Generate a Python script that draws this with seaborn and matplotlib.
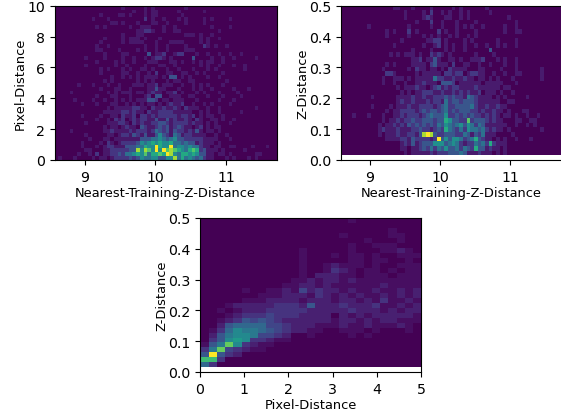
import numpy as np
import pandas as pd
import matplotlib
matplotlib.use('Agg')
import matplotlib.pyplot as plt
from matplotlib.colors import PowerNorm
import seaborn as sns

# counts per cell. top row first, spaces only for counting
pixel_vs_nearest = [
    "0000000000 0000000010 0000101000 0000010000 0000000000 0000000000",
    "0000000000 0000000000 0100101100 0001000000 1000000000 0000000000",
    "0000000000 0010000110 1000101100 0000100000 0000000000 0000000000",
    "0000000000 1000100000 0000201001 0001010000 1010000100 0000000000",
    "0000000000 0000011010 0010001100 1000010000 1000000000 0000000000",
    "0000000000 0101000000 1001110001 0010000000 0010000100 0000000000",
    "0000000000 0000000000 0011221001 0011000000 0000100000 0000000000",
    "0000000000 0000000010 0011000000 0000011101 0010000000 0000000000",
    "0000000000 0001000010 1110100010 0000000001 0100100000 0000000000",
    "0000000000 0010000010 1111000100 0111100001 0100000000 0000000000",
    "0000000000 0100100000 0000100100 1000010000 2101001000 0000000000",
    "0000000000 0110000100 0010100100 1000011100 0000000000 0000000000",
    "0000000000 0001000011 0000030112 0012200010 0100100100 1000000000",
    "0000000010 0001000010 0100101221 0100000300 0010010010 0000100000",
    "0000000000 0100001010 0100011100 0110100101 0110010000 0000000000",
    "0000000010 0000001001 0000100011 0010000001 0100100010 0100000000",
    "0000000000 0010100010 1001101000 1001000100 0101000000 0100000000",
    "0000000000 0010000011 0010010200 1100110010 1000010000 0000000000",
    "0000000000 0000010010 1010111101 0330101000 0100100000 0000000000",
    "0000000000 0001010000 0010101000 1011001100 0000001000 0000000000",
    "0000001000 1000100100 0111011201 1100100101 0100010000 0000000000",
    "0000000000 0010001100 1000011311 0001000101 0010000010 0010000000",
    "0000100000 0000101011 1011012110 1120100010 1000100001 0000000000",
    "0000000000 0100011000 1000120330 0111001100 0100010000 1000000000",
    "0000010000 1001001010 1011133201 1011100010 0000100010 0000000000",
    "0000000100 0100011001 0101011010 1211200100 1010000100 0000000000",
    "0000000000 0000101111 1221102112 1121021110 0100100000 0000100000",
    "0000000000 0001111122 1211021122 2211111001 0100100000 1000000000",
    "0000000100 0010011021 1202212122 2221221201 0110010000 0000000000",
    "0000000000 0100102120 1212211311 3121121021 0011010010 0000000000",
    "0000000010 0000111221 0212112233 2122221211 0101000100 0000000000",
    "0000000000 0001011012 1103211232 3123211012 0101100000 0000000000",
    "0000100000 0001121111 2122212432 3132212131 0110100000 0000000000",
    "0000000010 0000110122 1321311353 2143122111 1001001000 0000000000",
    "0000000001 0001101111 1113334454 3453322222 1111000100 0000000000",
    "0000000100 0010210122 2235456565 5644343312 1110100000 0000000000",
    "0000000100 0101221113 3344655965 5945545442 1101100110 0001000100",
    "0000000011 0001122222 3385875959 7876546762 3111010000 0100000000",
    "0000001001 0201122324 4565746676 9854665653 3110110100 0000110000",
    "0100010000 1011012222 3235445533 5584645434 2110001010 0010100000",
]

z_vs_nearest = [
    "0000000000 0000110001 0000100000 1010000001 0000000000 0000000000",
    "0000000000 0000000100 0010200101 0010100000 1000000000 0000000000",
    "0000000000 0000000100 0012100011 0010100000 0000010000 0000000000",
    "0000000000 0000000000 1000200100 0100001000 0000000100 0000000000",
    "0000000100 0000000010 0000100100 0101010010 0000100100 0000000000",
    "0000000000 0010100020 1000002010 0100001000 0000100110 0000000000",
    "0000000000 0010000010 0010101001 0100101000 0000000000 0000000000",
    "0000000000 0000001000 0001122010 0001010000 0010000100 0000000000",
    "0000000000 0000100000 0010012010 1001001001 0010100100 0000000000",
    "0000000000 0000000001 0000100010 1001000000 3000000000 0000000000",
    "0000000000 0001010111 0100212101 0000001000 0100000000 0000000000",
    "0000000000 0000000001 1201131001 1010011120 0010100100 0000000000",
    "0000000000 0010100001 1110231110 2001100100 1000100100 0000000000",
    "0000000000 0100000010 2110110102 1111000110 0001000100 0000100000",
    "0000000000 0022100000 1011111022 1220122110 0100100110 0000100000",
    "0000000000 0100111010 1111142211 2112110110 1010001000 0000100000",
    "0000000000 0100100100 1121110333 2011111101 1111000100 0000000000",
    "0000000000 0000010111 2110123121 2211112111 1110110000 0000000000",
    "0000000000 0000001010 1122211211 2121211201 1101001000 0000000000",
    "0000000010 0000011112 1121122232 3221432111 1010100000 1000000000",
    "0000000000 0000012112 1112122142 3323332111 1110011000 0000000000",
    "0000000010 0001011121 1222212342 2333342112 1121100000 0000000000",
    "0000000000 0010112222 1232332342 3233322121 1211010001 1000000000",
    "0001000100 0100112122 2123433352 2323232212 1210110100 1001000000",
    "0000000000 0101121223 2233323365 3322723332 1211000110 0110000000",
    "0000000000 1011212132 3232324354 3453542431 1111100100 1010000000",
    "0000000000 1211121112 2322123264 3242544342 1211010000 0000100000",
    "0000000000 1011121122 1389832233 3224313241 1100001000 0000000000",
    "0000000000 0011112213 2222129353 5542346321 1010100100 0100000000",
    "0000000000 0000001213 1233355534 5421224342 6211100000 0000000000",
    "0000000000 0000001101 1232424353 3424326331 2110100000 0000000000",
    "0000000000 0000000101 1111212223 3343111211 1010100000 0000000000",
]

# hex levels here, this panel has a much bigger range
z_vs_pixel = [
    "0000000000 0000000010 0000000",
    "0000000000 0000000000 0000000",
    "0000000000 0000000000 0001000",
    "0000000000 0000000100 0001100",
    "0000000000 0000000000 1000100",
    "0000000000 0000000010 0111000",
    "0000000000 0010000010 0011210",
    "0000000000 0010001011 0100111",
    "0000000000 0010000011 0110010",
    "0000000000 0010012111 0100111",
    "0000000000 0010013210 1101011",
    "0000000000 0010222110 1110111",
    "0000000000 0112122121 1111111",
    "0000000000 1122121111 1121111",
    "0000010011 2142322121 1211212",
    "0000000111 2221321212 1121212",
    "0000011122 2212221221 2131121",
    "0001222223 3325222322 2311212",
    "0010122233 3332222232 2212122",
    "0001233343 3322220212 1222221",
    "0012354543 2222221221 2122111",
    "0025666644 3222111211 2111210",
    "0136877654 3221100111 0100010",
    "0257887443 2001000010 1000000",
    "0358983321 1000000000 0000000",
    "157c832110 0000000000 0000000",
    "37c4321100 0000000000 0000000",
    "5f53200000 0000000000 0000000",
    "bb30000000 0000000000 0000000",
    "6300000000 0000000000 0000000",
]

nearest_ticks = [9, 10, 11]
pixel_ticks = [0, 2, 4, 6, 8, 10]
z_ticks = [0.0, 0.1, 0.2, 0.3, 0.4, 0.5]
pixel_ticks_short = [0, 1, 2, 3, 4, 5]


def cells(rows, xr, yr):
    grid = np.array([[int(c, 16) for c in r.replace(' ', '')] for r in rows])[::-1]
    ny, nx = grid.shape
    xe = np.linspace(xr[0], xr[1], nx + 1)
    ye = np.linspace(yr[0], yr[1], ny + 1)
    xc, yc = np.meshgrid((xe[:-1] + xe[1:]) / 2, (ye[:-1] + ye[1:]) / 2)
    return pd.DataFrame({'x': xc.ravel(), 'y': yc.ravel(), 'n': grid.ravel()}), (nx, ny)


def panel(pos, rows, xr, yr, vmax, gamma, xlim, ylim, xticks, yticks, xlabel, ylabel):
    ax = fig.add_axes([pos[0] / W, 1 - pos[3] / H, (pos[2] - pos[0]) / W, (pos[3] - pos[1]) / H])
    d, bins = cells(rows, xr, yr)
    sns.histplot(data=d, x='x', y='y', weights='n', bins=bins, binrange=(xr, yr),
                 cmap='viridis', thresh=None, ax=ax)
    ax.collections[-1].set_norm(PowerNorm(gamma, vmin=0, vmax=vmax))
    ax.set_xlim(xlim)
    ax.set_ylim(ylim)
    ax.set_xticks(xticks)
    ax.set_yticks(yticks)
    ax.tick_params(labelsize=10.2, pad=3.5)
    ax.set_xlabel(xlabel, labelpad=1.5)
    ax.set_ylabel(ylabel, labelpad=0)
    return ax


W, H = 561, 414
plt.rcParams['font.size'] = 9.4
plt.rcParams['axes.linewidth'] = 0.8

fig = plt.figure(figsize=(W / 100, H / 100), dpi=100)

panel((54.7, 6.7, 276.7, 161), pixel_vs_nearest, (8.57, 11.72), (0, 10), 9, 1.25,
      (8.57, 11.72), (0, 10), nearest_ticks, pixel_ticks,
      'Nearest-Training-Z-Distance', 'Pixel-Distance')
panel((341, 6.7, 562.5, 161), z_vs_nearest, (8.59, 11.74), (0.015, 0.5), 9, 1.2,
      (8.59, 11.74), (0, 0.5), nearest_ticks, z_ticks,
      'Nearest-Training-Z-Distance', 'Z-Distance')
panel((200, 219, 421, 373), z_vs_pixel, (0.02, 5), (0.015, 0.5), 15, 1.2,
      (0, 5), (0, 0.5), pixel_ticks_short, z_ticks,
      'Pixel-Distance', 'Z-Distance')

fig.savefig('out.png', dpi=100)
